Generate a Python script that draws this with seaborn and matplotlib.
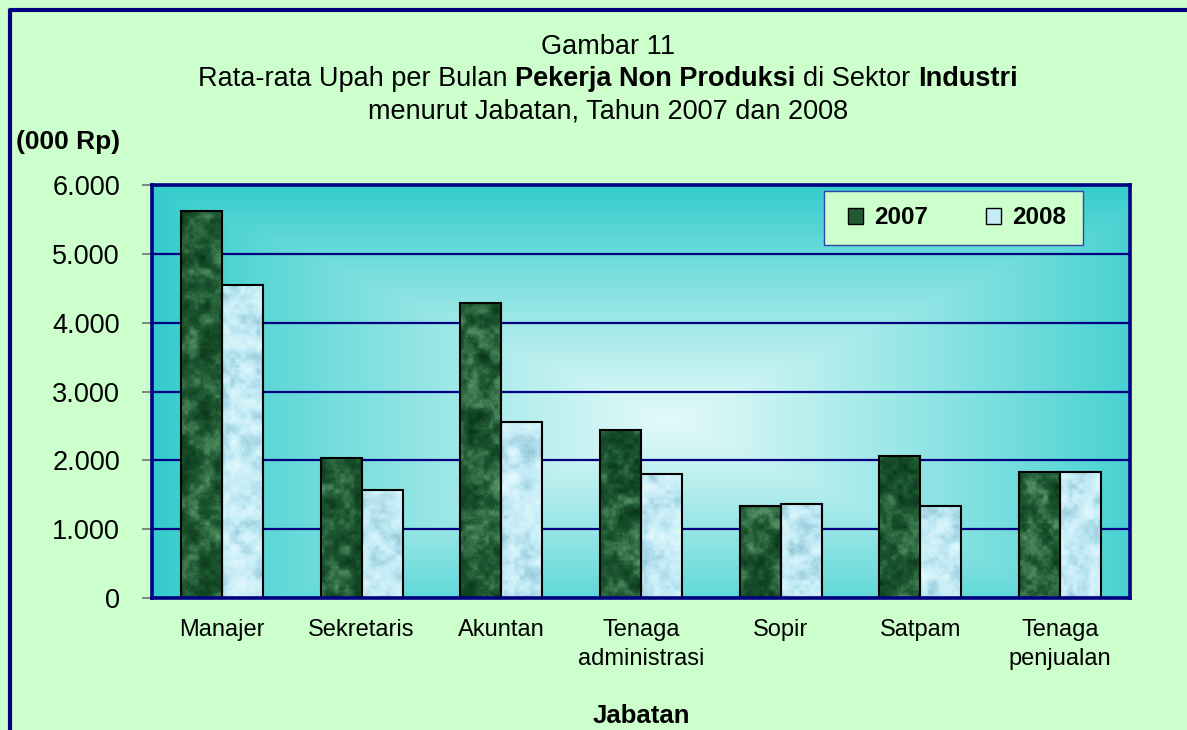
import numpy as np
import pandas as pd
import matplotlib
matplotlib.use("Agg")
import matplotlib.pyplot as plt
import seaborn as sns
from matplotlib.patches import Patch, Rectangle
from matplotlib.lines import Line2D
from matplotlib.ticker import FuncFormatter, MultipleLocator

# ---------------- data ----------------
jabatan = ["Manajer", "Sekretaris", "Akuntan", "Tenaga\nadministrasi",
           "Sopir", "Satpam", "Tenaga\npenjualan"]
tahun = ["2007", "2008"]
upah_2007 = [5620, 2030, 4290, 2440, 1340, 2060, 1830]
upah_2008 = [4540, 1570, 2560, 1800, 1370, 1330, 1830]

df = pd.DataFrame({
    "Jabatan": jabatan * 2,
    "Tahun": [tahun[0]] * len(jabatan) + [tahun[1]] * len(jabatan),
    "Upah": upah_2007 + upah_2008,
})

# ---------------- style ----------------
W, H = 1187, 730
BG = "#CCFFCC"
NAVY = "#000080"
C07 = "#1E5A32"
C08 = "#C5ECF6"
FS_X = 17
FS_T = 19.5
FS_Y = 19.5

plt.rcParams["font.family"] = ["Liberation Sans", "DejaVu Sans"]

fig = plt.figure(figsize=(W / 100, H / 100), dpi=100, facecolor=BG)
L, R, T, B = 152, 1130, 185, 598
ax = fig.add_axes([L / W, 1 - B / H, (R - L) / W, (B - T) / H])

sns.barplot(data=df, x="Jabatan", y="Upah", hue="Tahun", hue_order=tahun,
            palette=[C07, C08], width=0.587, gap=0, errorbar=None,
            edgecolor="black", linewidth=1.5, legend=False, ax=ax)

# background gradient (rectangular from centre)
gy, gx = np.mgrid[0:1:300j, 0:1:300j]
d = np.maximum(np.abs(gx - 0.53) / 0.53, np.abs(gy - 0.43) / 0.57)
d = np.clip(d, 0, 1) ** 1.1
c_in = np.array([226, 249, 249]) / 255
c_out = np.array([51, 204, 204]) / 255
grad = c_in[None, None, :] * (1 - d[..., None]) + c_out[None, None, :] * d[..., None]
ax.imshow(grad, extent=(-0.5, 6.5, 0, 6000), origin="lower", aspect="auto",
          zorder=0, interpolation="bilinear")


# textures for bars (deterministic value noise)
def hashv(ix, iy, s):
    return (np.sin(ix * 127.1 + iy * 311.7 + s * 74.7) * 43758.5453) % 1.0


def value_noise(h, w, cell, s):
    yy, xx = np.mgrid[0:h, 0:w] / cell
    x0 = np.floor(xx); y0 = np.floor(yy)
    fx = xx - x0; fy_ = yy - y0
    fx = fx * fx * (3 - 2 * fx); fy_ = fy_ * fy_ * (3 - 2 * fy_)
    v00 = hashv(x0, y0, s); v10 = hashv(x0 + 1, y0, s)
    v01 = hashv(x0, y0 + 1, s); v11 = hashv(x0 + 1, y0 + 1, s)
    return (v00 * (1 - fx) + v10 * fx) * (1 - fy_) + (v01 * (1 - fx) + v11 * fx) * fy_


def texture(h, w, s, dark, mid, light):
    n = (0.55 * value_noise(h, w, 12, s) + 0.3 * value_noise(h, w, 5, s + 3)
         + 0.15 * value_noise(h, w, 2, s + 7))
    n = (n - n.min()) / (n.max() - n.min() + 1e-9)
    dark, mid, light = (np.array(c) / 255 for c in (dark, mid, light))
    a = np.clip(n * 2, 0, 1)[..., None]
    b = np.clip(n * 2 - 1, 0, 1)[..., None]
    img = np.where(n[..., None] < 0.5, dark * (1 - a) + mid * a, mid * (1 - b) + light * b)
    return img


px_per_unit = (B - T) / 6000
bar_px_w = 41
for i, p in enumerate(ax.patches):
    h = p.get_height()
    if h <= 0:
        continue
    fc = p.get_facecolor()
    is07 = fc[0] < 0.5
    rows = max(int(h * px_per_unit), 2)
    if is07:
        tex = texture(rows, bar_px_w, i + 1, (8, 52, 24), (30, 88, 50), (88, 150, 104))
    else:
        tex = texture(rows, bar_px_w, i + 21, (150, 200, 218), (196, 236, 246), (232, 250, 253))
    x0 = p.get_x(); w = p.get_width()
    im = ax.imshow(tex, extent=(x0, x0 + w, 0, h), origin="lower", aspect="auto",
                   zorder=2, interpolation="nearest")
    im.set_clip_path(p)
    p.set_facecolor("none")
    p.set_zorder(3)

ax.set_xlim(-0.5, 6.5)
ax.set_ylim(0, 6000)
ax.yaxis.set_major_locator(MultipleLocator(1000))
ax.yaxis.set_major_formatter(FuncFormatter(lambda v, _: f"{int(v):,}".replace(",", ".")))
ax.set_axisbelow(True)
ax.yaxis.grid(True, color=NAVY, lw=1.6, zorder=1)
ax.xaxis.grid(False)
for sp in ax.spines.values():
    sp.set_color(NAVY)
    sp.set_linewidth(2.6)
    sp.set_zorder(5)
ax.tick_params(axis="y", direction="out", length=7, width=1.2, color="#707070",
               pad=16, labelsize=FS_Y)
ax.tick_params(axis="x", length=0, pad=15, labelsize=FS_X)
for t in ax.get_xticklabels():
    t.set_linespacing(1.45)
ax.set_xlabel("")
ax.set_ylabel("")

# ---------------- texts ----------------
def fy(px):
    return 1 - px / H


CX = 608
fig.text(CX / W, fy(54), "Gambar 11", ha="center", va="baseline", fontsize=FS_T)
fig.text(CX / W, fy(118), "menurut Jabatan, Tahun 2007 dan 2008", ha="center",
         va="baseline", fontsize=FS_T)

renderer = fig.canvas.get_renderer()


def twidth(s, weight):
    t = fig.text(0, 0, s, fontsize=FS_T, fontweight=weight)
    w = t.get_window_extent(renderer).width
    t.remove()
    return w


space = twidth("x x", "normal") - twidth("xx", "normal")
pieces = [("Rata-rata Upah per Bulan", "normal"), ("Pekerja Non Produksi", "bold"),
          ("di Sektor", "normal"), ("Industri", "bold")]
widths = [twidth(s, wt) for s, wt in pieces]
total = sum(widths) + space * (len(pieces) - 1)
xpos = CX - total / 2
for (s, wt), w in zip(pieces, widths):
    fig.text(xpos / W, fy(86), s, ha="left", va="baseline", fontsize=FS_T, fontweight=wt)
    xpos += w + space

fig.text(16 / W, fy(142), "(000 Rp)", ha="left", va="center", fontsize=19,
         fontweight="bold")
fig.text((L + R) / 2 / W, fy(716), "Jabatan", ha="center", va="center",
         fontsize=18.5, fontweight="bold")

# legend: frame drawn as a box inside the axes, entries centred on top of it
box = Rectangle((824 / W, fy(245)), (1083 - 824) / W, (245 - 191) / H,
                transform=fig.transFigure, facecolor=BG, edgecolor="#3344AA",
                lw=1.0, zorder=6, clip_on=False)
ax.add_patch(box)
handles = [Patch(facecolor=C07, edgecolor="black", lw=1.0),
           Patch(facecolor=C08, edgecolor="black", lw=1.0)]
leg = ax.legend(handles, tahun, loc="center",
                bbox_to_anchor=((957 - L) / (R - L), (B - 218) / (B - T)),
                ncol=2, frameon=False, handlelength=0.6,
                handleheight=0.6, handletextpad=0.45, columnspacing=2.4,
                borderpad=0.5, prop={"size": 17.5, "weight": "bold"})
leg.set_zorder(7)

# outer frame (left and top edges visible)
fig.add_artist(Line2D([10 / W, 10 / W, 1.0], [0.0, fy(10), fy(10)],
                      transform=fig.transFigure, color=NAVY, lw=3))

fig.savefig("out.png", dpi=100, facecolor=BG)
